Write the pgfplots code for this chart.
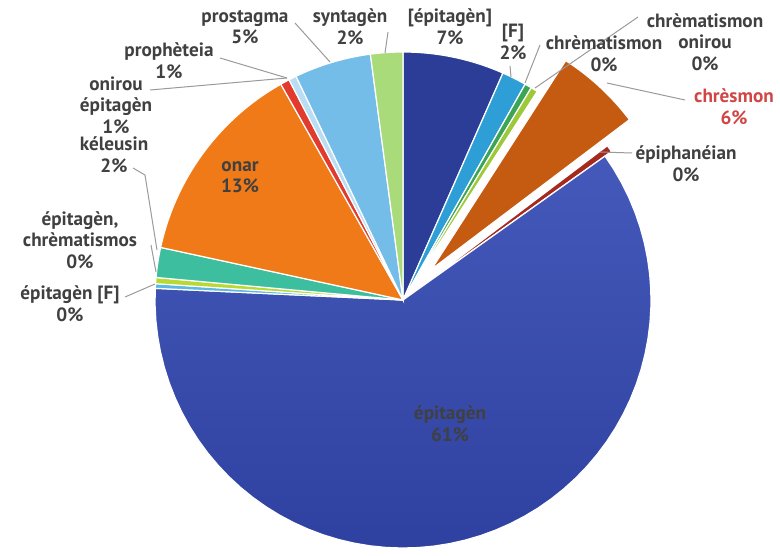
\documentclass[border=0pt]{standalone}
\usepackage{pgfplots}
\usepackage{pgfplotstable}
\pgfplotsset{compat=1.18}
\usepackage{fontspec}
\setmainfont{PT Sans}

\definecolor{c0}{HTML}{2B3D96}
\definecolor{c1}{HTML}{2E9FD6}
\definecolor{c2}{HTML}{3AA655}
\definecolor{c3}{HTML}{9DC83A}
\definecolor{c4}{HTML}{C55A11}
\definecolor{c5}{HTML}{A52A1E}
\definecolor{c6t}{HTML}{4459BA}
\definecolor{c6b}{HTML}{2F41A0}
\definecolor{c7}{HTML}{5BB8E0}
\definecolor{c8}{HTML}{B8D832}
\definecolor{c9}{HTML}{3DBE9F}
\definecolor{c10}{HTML}{F07A17}
\definecolor{c11}{HTML}{E23B2E}
\definecolor{c12}{HTML}{B9DDF3}
\definecolor{c13}{HTML}{74BDE9}
\definecolor{c14}{HTML}{A9DB7A}
\definecolor{txt}{HTML}{404040}
\definecolor{lead}{HTML}{9A9A9A}
\definecolor{redtxt}{HTML}{D04545}

\tikzset{
  s0/.style={fill=c0}, s1/.style={fill=c1}, s2/.style={fill=c2},
  s3/.style={fill=c3}, s4/.style={fill=c4}, s5/.style={fill=c5},
  s6/.style={top color=c6t, bottom color=c6b}, s7/.style={fill=c7},
  s8/.style={fill=c8}, s9/.style={fill=c9}, s10/.style={fill=c10},
  s11/.style={fill=c11}, s12/.style={fill=c12}, s13/.style={fill=c13},
  s14/.style={fill=c14},
  lbl/.style={align=center, inner sep=0pt, text=txt,
    font=\fontsize{9.6}{10.8}\selectfont\bfseries},
  ld/.style={draw=lead, line width=0.5pt}
}

% slices clockwise from 12 o'clock:
% [epitagen], [F], chrematismon, chrematismon onirou, chresmon, epiphaneian,
% epitagen, epitagen [F], epitagen chrematismos, keleusin, onar,
% onirou epitagen, propheteia, prostagma, syntagen
\pgfplotstableread{
value explode
6.6 0
1.6 0
0.45 0
0.45 0
5.6 42
0.45 8
60.6 0
0.3 0
0.4 0
1.95 0
13.4 0
0.6 0
0.5 0
5.0 0
2.1 0
}\piedata

\begin{document}
\begin{tikzpicture}
\begin{axis}[
  width=390pt, height=277.5pt, scale only axis,
  xmin=0, xmax=780, ymin=0, ymax=555, y dir=reverse,
  hide axis, clip=false]
\def\cum{0}
\pgfplotsforeachungrouped \i in {0,...,14}{%
  \pgfplotstablegetelem{\i}{value}\of\piedata \let\sV\pgfplotsretval
  \pgfplotstablegetelem{\i}{explode}\of\piedata \let\sE\pgfplotsretval
  \pgfmathsetmacro\sA{\cum*3.6}%
  \pgfmathsetmacro\sB{(\cum+\sV)*3.6}%
  \pgfmathsetmacro\sM{(\sA+\sB)/2}%
  \pgfmathsetmacro\cx{403+\sE*sin(\sM)}%
  \pgfmathsetmacro\cy{300-\sE*cos(\sM)}%
  \edef\doslice{\noexpand\addplot[s\i, draw=white, line width=0.6pt, domain=\sA:\sB, samples=60] ({\cx+248*sin(x)},{\cy-248*cos(x)}) -- (\cx,\cy) -- cycle;}%
  \doslice
  \pgfmathsetmacro\cum{\cum+\sV}%
}

% leader lines
\draw[ld] (295,23) -- (330,62);
\draw[ld] (388,32) -- (385,53);
\draw[ld] (510,66) -- (511,77);
\draw[ld] (540,45) -- (525,83);
\draw[ld] (638,17) -- (535,88);
\draw[ld] (607,83) -- (685,100);
\draw[ld] (600,152) -- (632,153);
\draw[ld] (220,58) -- (287,78);
\draw[ld] (150,90) -- (287,78);
\draw[ld] (133,168) -- (145,175) -- (157,250);
\draw[ld] (151,245) -- (156,272);
\draw[ld] (125,297) -- (155,284);

% labels
\node[lbl] at (245,27) {prostagma\\5\%};
\node[lbl] at (350,27) {syntagèn\\2\%};
\node[lbl] at (450,27) {[épitagèn]\\7\%};
\node[lbl] at (513,42) {[F]\\2\%};
\node[lbl] at (604,54) {chrèmatismon\\0\%};
\node[lbl] at (705,42) {chrèmatismon\\onirou\\0\%};
\node[lbl, text=redtxt] at (734,107) {chrèsmon\\6\%};
\node[lbl] at (686,164) {épiphanéian\\0\%};
\node[lbl] at (169,61) {prophèteia\\1\%};
\node[lbl] at (116,105) {onirou\\épitagèn\\1\%};
\node[lbl] at (114,155) {kéleusin\\2\%};
\node[lbl] at (80,240) {épitagèn,\\chrèmatismos\\0\%};
\node[lbl] at (70,304) {épitagèn [F]\\0\%};
\node[lbl] at (240,177) {onar\\13\%};
\node[lbl] at (450,424) {épitagèn\\61\%};
\end{axis}
\pgfresetboundingbox
\path (current axis.south west) rectangle (current axis.north east);
\end{tikzpicture}
\end{document}
